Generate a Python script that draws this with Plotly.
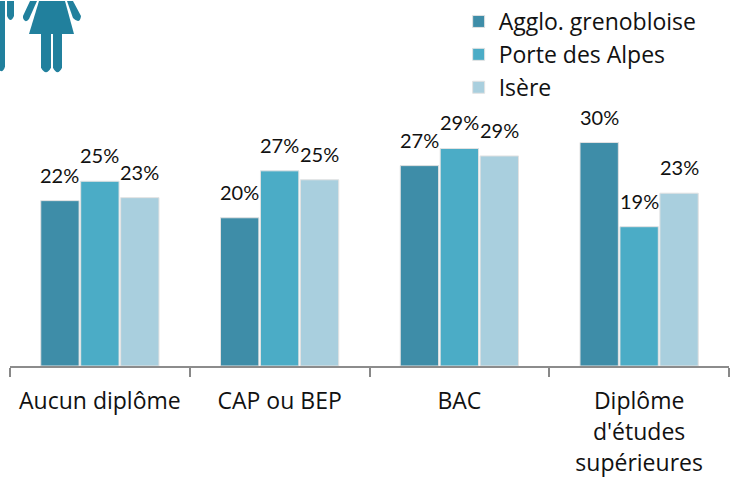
import plotly.graph_objects as go

W, H = 733, 477
ML, MR, MT, MB = 10, 4, 0, 111

categories = ["Aucun diplôme", "CAP ou BEP", "BAC", "Diplôme|d'études|supérieures"]
series_names = ["Agglo. grenobloise", "Porte des Alpes", "Isère"]
agglo = [22.2, 19.9, 26.9, 30.0]
porte = [24.8, 26.2, 29.2, 18.7]
isere = [22.6, 25.0, 28.2, 23.2]
agglo_labels = ["22%", "20%", "27%", "30%"]
porte_labels = ["25%", "27%", "29%", "19%"]
isere_labels = ["23%", "25%", "29%", "23%"]
colors = ["#3e8da8", "#4bacc6", "#a9cfde"]
all_series = [agglo, porte, isere]
all_labels = [agglo_labels, porte_labels, isere_labels]

def tick(c):
    parts = c.split("|")
    return "<br>".join('<span style="font-size:23px">%s</span>' % p for p in parts)

ticks = [tick(c) for c in categories]

fig = go.Figure()
for name, vals, col in zip(series_names, all_series, colors):
    fig.add_bar(
        x=ticks, y=vals, name=name, offsetgroup=name, legendgroup=name,
        marker=dict(color=col, line=dict(color="#e2e2e2", width=1)),
    )

annotations = []
for k, (vals, labs) in enumerate(zip(all_series, all_labels)):
    for t, v, lab in zip(ticks, vals, labs):
        annotations.append(dict(
            x=t, y=v, xref="x", yref="y", text=lab,
            showarrow=False, xshift=(k - 1) * 40, yshift=26,
            xanchor="center", yanchor="middle",
            font=dict(family="Lato, sans-serif", size=20, color="#111111"),
        ))

def px(x): return (x - ML) / (W - ML - MR)
def py(y): return 1 - (y - MT) / (H - MT - MB)
def path(pts):
    out = []
    for p in pts:
        if len(p) == 3:
            out.append("%s%.5f,%.5f" % (p[0], px(p[1]), py(p[2])))
        else:
            out.append("Q%.5f,%.5f %.5f,%.5f" % (px(p[0]), py(p[1]), px(p[2]), py(p[3])))
    return " ".join(out) + " Z"

ICON = "#21809d"
icon_paths = [
    [("M", 39, 0), ("L", 65, 0), ("L", 74, 33), ("L", 29, 33)],
    [("M", 30, 0), ("L", 37, 0), ("L", 29, 18), (25, 23, 23, 17), ("L", 23, 15)],
    [("M", 67, 0), ("L", 73, 0), ("L", 81, 15), (80, 24, 73, 17)],
    [("M", 41, 33), ("L", 51, 33), ("L", 51, 67), (46, 76, 41, 67)],
    [("M", 53, 33), ("L", 62, 33), ("L", 62, 67), (57.5, 76, 53, 67)],
    [("M", 0, 0), ("L", 5, 0), ("L", 5, 66), (3, 72, 0, 70)],
    [("M", 7, 0), ("L", 14, 0), ("L", 14, 15), (10.5, 23, 7, 15)],
]
shapes = [dict(type="path", xref="paper", yref="paper", path=path(p),
               fillcolor=ICON, line=dict(width=0), layer="above")
          for p in icon_paths]

fig.update_layout(
    width=W, height=H, autosize=False,
    margin=dict(l=ML, r=MR, t=MT, b=MB),
    paper_bgcolor="white", plot_bgcolor="white",
    barmode="group", bargap=1/3, bargroupgap=0.04,
    shapes=shapes, annotations=annotations,
    legend=dict(x=0.624, y=1.003, xanchor="left", yanchor="top",
                font=dict(family="Open Sans, sans-serif", size=23, color="#111111"),
                tracegroupgap=4, itemwidth=30, bgcolor="rgba(0,0,0,0)",
                traceorder="normal"),
    font=dict(family="Open Sans, sans-serif", color="#111111"),
    xaxis=dict(type="category", tickson="boundaries", ticks="outside", ticklen=9,
               tickwidth=1.5, tickcolor="#888888", showline=True, linecolor="#8c8c8c",
               linewidth=2, tickangle=0, automargin=False, showgrid=False,
               ticklabelstandoff=12,
               tickfont=dict(family="Open Sans, sans-serif", size=24, color="#111111")),
    yaxis=dict(range=[0, 49], visible=False, showgrid=False, zeroline=False),
)
fig.write_html("out.html", config={"displayModeBar": False},
               post_script="document.body.style.margin='0';")
